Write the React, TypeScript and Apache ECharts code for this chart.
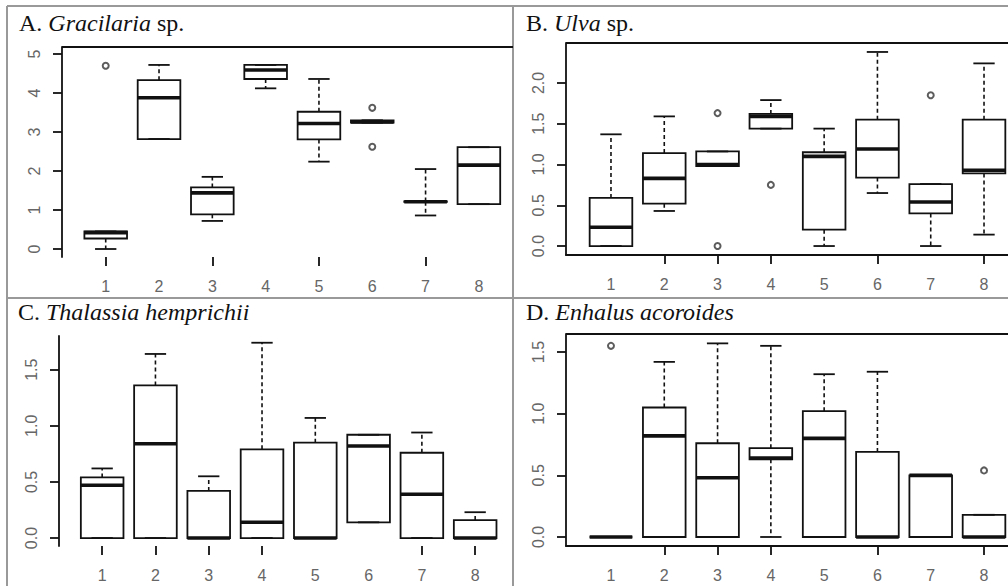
import React, { useEffect, useRef } from "react";
import * as echarts from "echarts";

// Category labels (sites 1..8)
const categories = ["1", "2", "3", "4", "5", "6", "7", "8"];

// Box statistics per site: [lower whisker, Q1, median, Q3, upper whisker]
const gracilariaStats = [
  [0.0, 0.27, 0.42, 0.45, 0.45],
  [2.82, 2.82, 3.88, 4.33, 4.72],
  [0.72, 0.89, 1.44, 1.58, 1.85],
  [4.12, 4.36, 4.59, 4.72, 4.72],
  [2.24, 2.81, 3.22, 3.52, 4.36],
  [3.24, 3.24, 3.26, 3.3, 3.3],
  [0.86, 1.21, 1.21, 1.22, 2.05],
  [1.15, 1.15, 2.15, 2.61, 2.61],
];
const gracilariaOutliers = [
  [1, 4.7],
  [6, 3.62],
  [6, 2.62],
];

const ulvaStats = [
  [0.0, 0.0, 0.23, 0.59, 1.37],
  [0.43, 0.52, 0.83, 1.14, 1.59],
  [0.98, 0.98, 1.0, 1.16, 1.16],
  [1.44, 1.44, 1.59, 1.62, 1.79],
  [0.0, 0.2, 1.1, 1.15, 1.44],
  [0.65, 0.84, 1.19, 1.55, 2.38],
  [0.0, 0.4, 0.54, 0.76, 0.76],
  [0.14, 0.89, 0.93, 1.55, 2.24],
];
const ulvaOutliers = [
  [3, 1.63],
  [3, 0.0],
  [4, 0.75],
  [7, 1.85],
];

const thalassiaStats = [
  [0.0, 0.0, 0.47, 0.54, 0.62],
  [0.0, 0.0, 0.84, 1.36, 1.64],
  [0.0, 0.0, 0.0, 0.42, 0.55],
  [0.0, 0.0, 0.14, 0.79, 1.74],
  [0.0, 0.0, 0.0, 0.85, 1.07],
  [0.14, 0.14, 0.82, 0.92, 0.92],
  [0.0, 0.0, 0.39, 0.76, 0.94],
  [0.0, 0.0, 0.0, 0.16, 0.23],
];
const thalassiaOutliers: number[][] = [];

const enhalusStats = [
  [0.0, 0.0, 0.0, 0.0, 0.0],
  [0.0, 0.0, 0.82, 1.05, 1.42],
  [0.0, 0.0, 0.48, 0.76, 1.57],
  [0.0, 0.63, 0.64, 0.72, 1.55],
  [0.0, 0.0, 0.8, 1.02, 1.32],
  [0.0, 0.0, 0.0, 0.69, 1.34],
  [0.0, 0.0, 0.5, 0.5, 0.5],
  [0.0, 0.0, 0.0, 0.18, 0.18],
];
const enhalusOutliers = [
  [1, 1.55],
  [8, 0.54],
];

// Tick values
const yTicksA = [0, 1, 2, 3, 4, 5];
const yTicksB = [0, 0.5, 1.0, 1.5, 2.0];
const yTicksC = [0, 0.5, 1.0, 1.5];
const yTicksD = [0, 0.5, 1.0, 1.5];
const xLabelValues = [1, 2, 3, 4, 5, 6, 7, 8];
const xTicksA = [1, 3, 5, 7];
const xTicksB = [2, 3, 4, 6, 8];
const xTicksC = [1, 2, 3, 4, 7, 8];
const xTicksD = [2, 3, 4, 6, 8];

const INK = "#111";
const LABEL = "#666";
const FRAME = "#999";
const SERIF = "'Liberation Serif', 'DejaVu Serif', serif";
const SANS = "'Liberation Sans', Arial, sans-serif";

const panels = [
  {
    title: ["A. ", "Gracilaria", " sp."],
    titlePos: { left: 19, top: 11 },
    grid: { left: 62, top: 47, width: 451, height: 210 },
    x: [0.18, 8.64],
    y: [-0.205, 5.18],
    yTicks: yTicksA,
    dec: 0,
    xTicks: xTicksA,
    bottomLine: false,
    topLine: true,
    stats: gracilariaStats,
    outliers: gracilariaOutliers,
  },
  {
    title: ["B. ", "Ulva", " sp."],
    titlePos: { left: 526, top: 11 },
    grid: { left: 566, top: 43, width: 442, height: 212 },
    x: [0.156, 8.45],
    y: [-0.11, 2.49],
    yTicks: yTicksB,
    dec: 1,
    xTicks: xTicksB,
    bottomLine: true,
    topLine: true,
    stats: ulvaStats,
    outliers: ulvaOutliers,
  },
  {
    title: ["C. ", "Thalassia hemprichii", ""],
    titlePos: { left: 18, top: 300 },
    grid: { left: 59, top: 336, width: 454, height: 210 },
    x: [0.19, 8.71],
    y: [-0.071, 1.8],
    yTicks: yTicksC,
    dec: 1,
    xTicks: xTicksC,
    bottomLine: false,
    topLine: false,
    stats: thalassiaStats,
    outliers: thalassiaOutliers,
  },
  {
    title: ["D. ", "Enhalus acoroides", ""],
    titlePos: { left: 526, top: 300 },
    grid: { left: 566, top: 334, width: 442, height: 212 },
    x: [0.156, 8.45],
    y: [-0.073, 1.646],
    yTicks: yTicksD,
    dec: 1,
    xTicks: xTicksD,
    bottomLine: true,
    topLine: true,
    stats: enhalusStats,
    outliers: enhalusOutliers,
  },
];

function renderBox(params: any, api: any) {
  const x = api.value(0);
  const low = api.value(1);
  const q1 = api.value(2);
  const med = api.value(3);
  const q3 = api.value(4);
  const high = api.value(5);
  const half = api.size([0.4, 0])[0];
  const cap = half / 2;
  const pLow = api.coord([x, low]);
  const pQ1 = api.coord([x, q1]);
  const pMed = api.coord([x, med]);
  const pQ3 = api.coord([x, q3]);
  const pHigh = api.coord([x, high]);
  const cx = pMed[0];
  const solid = { stroke: INK, lineWidth: 1.8, fill: "none" };
  const dashed = { stroke: INK, lineWidth: 1.6, lineDash: [4, 3], fill: "none" };
  const children: any[] = [];
  if (high > q3) {
    children.push({ type: "line", shape: { x1: cx, y1: pQ3[1], x2: cx, y2: pHigh[1] }, style: dashed });
  }
  children.push({ type: "line", shape: { x1: cx - cap, y1: pHigh[1], x2: cx + cap, y2: pHigh[1] }, style: solid });
  if (low < q1) {
    children.push({ type: "line", shape: { x1: cx, y1: pQ1[1], x2: cx, y2: pLow[1] }, style: dashed });
  }
  children.push({ type: "line", shape: { x1: cx - cap, y1: pLow[1], x2: cx + cap, y2: pLow[1] }, style: solid });
  children.push({
    type: "rect",
    shape: { x: cx - half, y: pQ3[1], width: half * 2, height: pQ1[1] - pQ3[1] },
    style: { stroke: INK, lineWidth: 1.8, fill: "rgba(255,255,255,0)" },
  });
  children.push({
    type: "line",
    shape: { x1: cx - half, y1: pMed[1], x2: cx + half, y2: pMed[1] },
    style: { stroke: INK, lineWidth: 3.6 },
  });
  return { type: "group", children };
}

export default function App() {
  const ref = useRef<HTMLDivElement>(null);

  useEffect(() => {
    document.body.style.margin = "0";
    if (!ref.current) return;
    const chart = echarts.init(ref.current, null, { renderer: "svg" });

    const titles = panels.map((p) => ({
      text: `{n|${p.title[0]}}{i|${p.title[1]}}` + (p.title[2] ? `{n|${p.title[2]}}` : ""),
      left: p.titlePos.left,
      top: p.titlePos.top,
      padding: 0,
      textStyle: {
        fontWeight: "normal",
        fontFamily: SERIF,
        fontSize: 24,
        rich: {
          n: { fontFamily: SERIF, fontSize: 24, fontWeight: "normal", color: "#111", lineHeight: 24 },
          i: {
            fontFamily: SERIF,
            fontSize: 24,
            fontWeight: "normal",
            fontStyle: "italic",
            color: "#111",
            lineHeight: 24,
          },
        },
      },
    }));

    const grids = panels.map((p) => ({ ...p.grid, containLabel: false, show: false }));

    const xAxes = panels.map((p, i) => ({
      type: "value",
      gridIndex: i,
      min: p.x[0],
      max: p.x[1],
      axisLine: { show: p.bottomLine, onZero: false, lineStyle: { color: INK, width: 1.8 } },
      axisTick: { show: true, length: 9, customValues: p.xTicks, lineStyle: { color: INK, width: 1.8 } },
      axisLabel: {
        show: true,
        customValues: xLabelValues,
        formatter: (v: number) => categories[Math.round(v) - 1] ?? "",
        margin: 21,
        fontSize: 16,
        fontFamily: SANS,
        color: LABEL,
      },
      splitLine: { show: false },
    }));

    const yAxes = panels.map((p, i) => ({
      type: "value",
      gridIndex: i,
      min: p.y[0],
      max: p.y[1],
      axisLine: { show: true, lineStyle: { color: INK, width: 1.8 } },
      axisTick: { show: true, length: 9, customValues: p.yTicks, lineStyle: { color: INK, width: 1.8 } },
      axisLabel: {
        show: true,
        customValues: p.yTicks,
        rotate: 90,
        margin: 20,
        formatter: (v: number) => v.toFixed(p.dec),
        fontSize: 16,
        fontFamily: SANS,
        color: LABEL,
      },
      splitLine: { show: false },
    }));

    const series: any[] = [];
    panels.forEach((p, i) => {
      series.push({
        type: "custom",
        xAxisIndex: i,
        yAxisIndex: i,
        renderItem: renderBox,
        encode: { x: 0, y: [1, 2, 3, 4, 5] },
        data: p.stats.map((s, k) => [k + 1, ...s]),
        silent: true,
      });
      series.push({
        type: "scatter",
        xAxisIndex: i,
        yAxisIndex: i,
        symbol: "emptyCircle",
        symbolSize: 6,
        itemStyle: { color: "#333", borderWidth: 1.2 },
        data: p.outliers,
        silent: true,
      });
    });

    // frame of the figure and plot-box top lines
    const graphic: any[] = [
      { type: "line", shape: { x1: 7, y1: 6, x2: 1008, y2: 6 }, style: { stroke: FRAME, lineWidth: 2 } },
      { type: "line", shape: { x1: 7, y1: 6, x2: 7, y2: 586 }, style: { stroke: FRAME, lineWidth: 2 } },
      { type: "line", shape: { x1: 513, y1: 6, x2: 513, y2: 586 }, style: { stroke: FRAME, lineWidth: 2 } },
      { type: "line", shape: { x1: 7, y1: 298, x2: 1008, y2: 298 }, style: { stroke: FRAME, lineWidth: 2 } },
    ];
    panels.forEach((p) => {
      if (p.topLine) {
        graphic.push({
          type: "line",
          shape: { x1: p.grid.left, y1: p.grid.top, x2: p.grid.left + p.grid.width, y2: p.grid.top },
          style: { stroke: INK, lineWidth: 1.8 },
        });
      }
    });

    chart.setOption({
      animation: false,
      backgroundColor: "#fff",
      title: titles,
      grid: grids,
      xAxis: xAxes,
      yAxis: yAxes,
      series,
      graphic,
    });

    return () => chart.dispose();
  }, []);

  return <div ref={ref} style={{ width: 1008, height: 586 }} />;
}
